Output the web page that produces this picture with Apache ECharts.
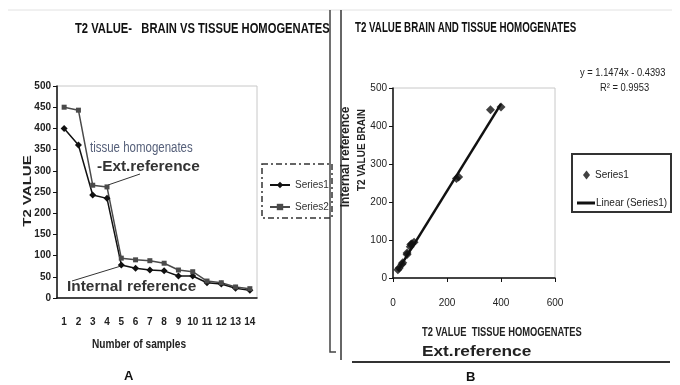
<!DOCTYPE html>
<html>
<head>
<meta charset="utf-8">
<script src="https://cdn.jsdelivr.net/npm/echarts@6/dist/echarts.min.js"></script>
<style>
  html, body { margin: 0; padding: 0; background: #fff; }
  #main { width: 680px; height: 385px; }
</style>
</head>
<body>
<div id="main"></div>
<script>
// samples 1..14
var samples = ['1', '2', '3', '4', '5', '6', '7', '8', '9', '10', '11', '12', '13', '14'];
// Series1 - internal reference (brain)
var internalRef = [400, 361, 243, 235, 78, 70, 66, 64, 52, 52, 36, 33, 23, 18];
// Series2 - tissue homogenates, ext. reference
var tissueRef = [450, 443, 266, 262, 94, 90, 88, 82, 66, 62, 40, 36, 26, 22];
// linear trend ends
var trendEnds = [[18, 20], [400, 458]];

var sans = '"Liberation Sans", Arial, sans-serif';

// scatter points: x = internal ref, y = tissue ref
var scatterData = [];
internalRef.forEach(function (v, i) {
    scatterData.push([v, tissueRef[i]]);
});

// squeezed text, no narrow font installed
function txt(x, y, s, size, sx, opt) {
    opt = opt || {};
    return {
        type: 'text', x: x, y: y, scaleX: sx, rotation: opt.rot || 0,
        style: {
            text: s, fontFamily: sans, fontSize: size,
            fontWeight: opt.bold === false ? 'normal' : 'bold',
            fill: opt.color || '#111', align: opt.align || 'left', verticalAlign: 'middle'
        }
    };
}

var myChart = echarts.init(document.getElementById('main'));

myChart.setOption({
    animation: false,
    grid: [
        { left: 57, top: 86, width: 200, height: 212, show: true, borderColor: '#c8c8c8', borderWidth: 1 },
        { left: 393, top: 88, width: 162, height: 190, show: true, borderColor: '#c8c8c8', borderWidth: 1 }
    ],
    legend: [
        {
            data: ['Series1', 'Series2'],
            orient: 'vertical',
            left: 264, top: 175,
            itemWidth: 20, itemHeight: 8, itemGap: 12,
            textStyle: { fontFamily: sans, fontSize: 10, color: '#333' }
        },
        {
            data: ['Series1 '],
            left: 578, top: 165,
            itemWidth: 7, itemHeight: 9,
            textStyle: { fontFamily: sans, fontSize: 10, color: '#222' }
        },
        {
            data: [{ name: 'Linear (Series1)', icon: 'rect' }],
            left: 572, top: 193,
            itemWidth: 18, itemHeight: 3, itemGap: 2,
            textStyle: { fontFamily: sans, fontSize: 10, color: '#222', padding: [0, 0, 0, -4] }
        }
    ],
    xAxis: [
        {
            type: 'category', gridIndex: 0, data: samples,
            axisLine: { lineStyle: { color: '#111', width: 1.5 } },
            axisTick: { length: 4, lineStyle: { color: '#111' } },
            axisLabel: { interval: 0, margin: 19, fontFamily: sans, fontWeight: 'bold', fontSize: 10, color: '#222' }
        },
        {
            type: 'value', gridIndex: 1, min: 0, max: 600, interval: 200,
            axisLine: { lineStyle: { color: '#111', width: 1.5 } },
            axisTick: { length: 4, lineStyle: { color: '#111' } },
            axisLabel: { margin: 20, fontFamily: sans, fontSize: 10, color: '#222' },
            splitLine: { show: false }
        }
    ],
    yAxis: [
        {
            type: 'value', gridIndex: 0, min: 0, max: 500, interval: 50,
            axisLine: { show: true, lineStyle: { color: '#111', width: 1.5 } },
            axisTick: { show: true, length: 4, lineStyle: { color: '#111' } },
            axisLabel: { margin: 6, fontFamily: sans, fontWeight: 'bold', fontSize: 10, color: '#222' },
            splitLine: { show: false }
        },
        {
            type: 'value', gridIndex: 1, min: 0, max: 500, interval: 100,
            axisLine: { show: true, lineStyle: { color: '#111', width: 1.5 } },
            axisTick: { show: true, length: 4, lineStyle: { color: '#111' } },
            axisLabel: { margin: 6, fontFamily: sans, fontSize: 10, color: '#222' },
            splitLine: { show: false }
        }
    ],
    series: [
        {
            name: 'Series1', type: 'line', xAxisIndex: 0, yAxisIndex: 0,
            data: internalRef,
            symbol: 'diamond', symbolSize: 7,
            lineStyle: { color: '#111', width: 1.5 },
            itemStyle: { color: '#111' }
        },
        {
            name: 'Series2', type: 'line', xAxisIndex: 0, yAxisIndex: 0,
            data: tissueRef,
            symbol: 'rect', symbolSize: 5,
            lineStyle: { color: '#4a4a4a', width: 1.5 },
            itemStyle: { color: '#4a4a4a' }
        },
        {
            name: 'Series1 ', type: 'scatter', xAxisIndex: 1, yAxisIndex: 1,
            data: scatterData,
            symbol: 'diamond', symbolSize: 9,
            itemStyle: { color: '#111' }
        },
        {
            name: 'Linear (Series1)', type: 'line', xAxisIndex: 1, yAxisIndex: 1,
            data: trendEnds, symbol: 'none',
            lineStyle: { color: '#111', width: 2.5 },
            itemStyle: { color: '#111' }
        }
    ],
    graphic: [
        // frame lines
        { type: 'line', shape: { x1: 8, y1: 10, x2: 672, y2: 10 }, style: { stroke: '#e2e2e2', lineWidth: 1 } },
        { type: 'polyline', shape: { points: [[330, 10], [330, 352], [336, 352]] }, style: { stroke: '#444', lineWidth: 1.5, fill: null } },
        { type: 'line', shape: { x1: 341, y1: 10, x2: 341, y2: 360 }, style: { stroke: '#333', lineWidth: 1.5 } },
        { type: 'line', shape: { x1: 352, y1: 362, x2: 670, y2: 362 }, style: { stroke: '#333', lineWidth: 2 } },
        // titles
        txt(75, 29, 'T2 VALUE-   BRAIN VS TISSUE HOMOGENATES', 14, 0.8),
        txt(355, 28, 'T2 VALUE BRAIN AND TISSUE HOMOGENATES', 15, 0.65),
        // panel A labels
        txt(28, 191, 'T2 VALUE', 10, 1.5, { rot: Math.PI / 2, align: 'center', color: '#222' }),
        txt(90, 148, 'tissue homogenates', 14, 0.82, { bold: false, color: '#56607a' }),
        txt(97, 167, '-Ext.reference', 14, 1.1, { color: '#333' }),
        { type: 'line', shape: { x1: 108, y1: 185, x2: 140, y2: 174 }, style: { stroke: '#333', lineWidth: 1 } },
        txt(67, 287, 'Internal reference', 14, 1.1, { color: '#333' }),
        { type: 'line', shape: { x1: 72, y1: 281, x2: 121, y2: 266 }, style: { stroke: '#333', lineWidth: 1 } },
        txt(92, 344, 'Number of samples', 13, 0.78, { color: '#222' }),
        // legend frame panel A
        { type: 'rect', shape: { x: 262, y: 164, width: 70, height: 54 }, style: { fill: null, stroke: '#333', lineWidth: 1.5, lineDash: [6, 3, 2, 3] } },
        txt(124, 376, 'A', 13, 1),
        // panel B labels
        txt(346, 157, 'Internal reference', 12, 1, { rot: Math.PI / 2, align: 'center', color: '#222' }),
        txt(362, 150, 'T2 VALUE BRAIN', 10, 1, { rot: Math.PI / 2, align: 'center', color: '#222' }),
        txt(422, 332, 'T2 VALUE  TISSUE HOMOGENATES', 13, 0.72, { color: '#222' }),
        txt(422, 352, 'Ext.reference', 15, 1.15, { color: '#222' }),
        txt(466, 377, 'B', 13, 1),
        txt(580, 73, 'y = 1.1474x - 0.4393', 11, 0.85, { bold: false, color: '#222' }),
        txt(600, 88, 'R² = 0.9953', 11, 0.85, { bold: false, color: '#222' }),
        { type: 'rect', shape: { x: 572, y: 154, width: 99, height: 58 }, style: { fill: null, stroke: '#333', lineWidth: 2 } }
    ]
});
</script>
</body>
</html>
